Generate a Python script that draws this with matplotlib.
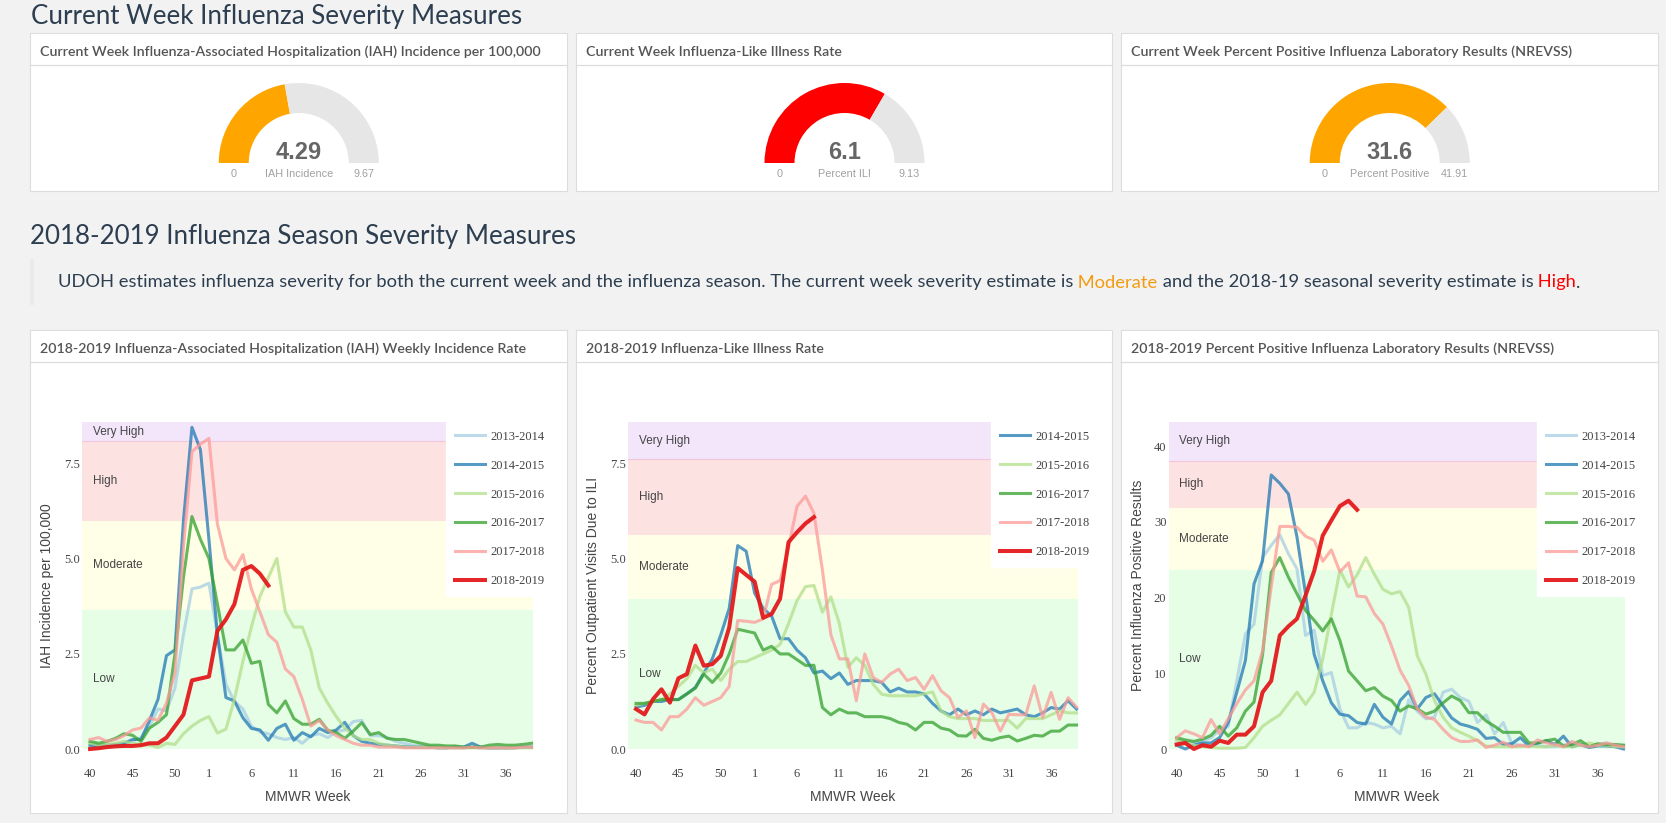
import numpy as np
import matplotlib
matplotlib.use("Agg")
import matplotlib.pyplot as plt
from matplotlib.patches import Rectangle

# ---------------- data ----------------
week_labels = [str(w) for w in range(40, 54)] + [str(w) for w in range(1, 40)]
tick_labels = ["40", "45", "50", "1", "6", "11", "16", "21", "26", "31", "36"]

gauge_titles = [
    "Current Week Influenza-Associated Hospitalization (IAH) Incidence per 100,000",
    "Current Week Influenza-Like Illness Rate",
    "Current Week Percent Positive Influenza Laboratory Results (NREVSS)",
]
gauge_names = ["IAH Incidence", "Percent ILI", "Percent Positive"]
gauge_values = [4.29, 6.1, 31.6]
gauge_max = [9.67, 9.13, 41.91]
gauge_colors = ["#FFA500", "#FF0000", "#FFA500"]

chart_titles = [
    "2018-2019 Influenza-Associated Hospitalization (IAH) Weekly Incidence Rate",
    "2018-2019 Influenza-Like Illness Rate",
    "2018-2019 Percent Positive Influenza Laboratory Results (NREVSS)",
]
severity_levels = ["Low", "Moderate", "High", "Very High"]
iah_thresholds = [0, 3.66, 5.98, 8.08]
ili_thresholds = [0, 3.94, 5.63, 7.62]
pos_thresholds = [0, 23.7, 31.8, 38.1]
iah_ymax, ili_ymax, pos_ymax = 8.58, 8.6, 43.2

# IAH incidence per 100,000
iah_2013_14 = [0.10, 0.05, 0.08, 0.10, 0.12, 0.20, 0.30, 0.60, 1.05, 1.00,
               1.60, 3.00, 4.20, 4.25, 4.35, 3.00, 1.70, 1.25, 1.05, 0.60,
               0.45, 0.40, 0.30, 0.25, 0.30, 0.15, 0.35, 0.40, 0.30, 0.45,
               0.50, 0.72, 0.75, 0.35, 0.35, 0.30, 0.20, 0.15, 0.10, 0.08,
               0.05, 0.05, 0.05, 0.03, 0.03, 0.05, 0.03, 0.03, 0.03, 0.03, 0.05, 0.05, 0.05]
iah_2014_15 = [0.10, 0.08, 0.10, 0.12, 0.15, 0.25, 0.25, 0.75, 1.30, 2.45,
               2.60, 6.00, 8.44, 7.85, 5.50, 3.00, 1.35, 1.26, 0.82, 0.54,
               0.50, 0.23, 0.54, 0.65, 0.23, 0.43, 0.32, 0.54, 0.43, 0.50,
               0.70, 0.35, 0.20, 0.15, 0.12, 0.10, 0.08, 0.06, 0.05, 0.05,
               0.05, 0.03, 0.03, 0.05, 0.05, 0.15, 0.05, 0.03, 0.03, 0.03, 0.03, 0.05, 0.05]
iah_2015_16 = [0.15, 0.10, 0.12, 0.15, 0.20, 0.15, 0.12, 0.10, 0.04, 0.15,
               0.12, 0.40, 0.60, 0.75, 0.85, 0.42, 0.52, 1.30, 2.30, 3.20,
               4.00, 4.50, 5.00, 3.60, 3.20, 3.20, 2.60, 1.60, 1.20, 0.85,
               0.55, 0.35, 0.25, 0.25, 0.15, 0.10, 0.08, 0.05, 0.05, 0.05,
               0.05, 0.03, 0.03, 0.03, 0.03, 0.03, 0.03, 0.03, 0.03, 0.03, 0.03, 0.03, 0.03]
iah_2016_17 = [0.20, 0.15, 0.20, 0.28, 0.40, 0.36, 0.20, 0.55, 0.70, 0.90,
               2.50, 4.50, 6.10, 5.50, 5.00, 3.80, 2.60, 2.60, 2.86, 2.25,
               2.30, 1.17, 0.95, 1.26, 0.80, 0.65, 0.65, 0.78, 0.49, 0.43,
               0.28, 0.47, 0.69, 0.38, 0.43, 0.28, 0.25, 0.25, 0.20, 0.15,
               0.10, 0.10, 0.08, 0.08, 0.05, 0.05, 0.05, 0.10, 0.12, 0.10, 0.10, 0.12, 0.15]
iah_2017_18 = [0.25, 0.30, 0.20, 0.25, 0.35, 0.50, 0.55, 0.82, 0.75, 1.20,
               2.00, 5.30, 7.80, 8.00, 8.15, 5.90, 5.00, 4.70, 5.10, 4.20,
               3.60, 3.00, 2.80, 2.10, 1.90, 1.30, 0.60, 0.75, 0.50, 0.35,
               0.25, 0.15, 0.10, 0.10, 0.05, 0.05, 0.05, 0.03, 0.03, 0.03,
               0.03, 0.03, 0.03, 0.03, 0.03, 0.05, 0.03, 0.03, 0.03, 0.03, 0.03, 0.05, 0.05]
iah_2018_19 = [0.00, 0.02, 0.05, 0.07, 0.08, 0.08, 0.10, 0.15, 0.15, 0.30,
               0.60, 0.90, 1.80, 1.85, 1.90, 3.10, 3.40, 3.80, 4.70, 4.80,
               4.60, 4.29]

# Percent of outpatient visits due to ILI
ili_2014_15 = [1.10, 1.15, 1.25, 1.25, 1.30, 1.30, 1.45, 1.62, 2.00, 2.37,
               3.00, 3.70, 5.35, 5.20, 4.10, 3.70, 3.50, 2.90, 2.90, 2.60,
               2.40, 2.00, 2.05, 1.85, 2.00, 1.70, 1.80, 1.80, 1.80, 1.75,
               1.50, 1.60, 1.50, 1.50, 1.45, 1.20, 1.00, 0.90, 1.05, 0.90,
               1.00, 0.90, 1.05, 0.95, 1.00, 1.05, 0.90, 0.85, 0.95, 1.09, 1.05, 1.27, 1.05]
ili_2015_16 = [1.15, 1.20, 1.25, 1.30, 1.45, 1.65, 1.85, 2.20, 2.00, 2.10,
               1.80, 2.10, 2.30, 2.30, 2.40, 2.50, 2.60, 2.75, 3.30, 3.90,
               4.27, 4.30, 3.60, 4.00, 3.30, 2.15, 2.40, 2.20, 1.70, 1.44,
               1.40, 1.40, 1.40, 1.40, 1.45, 1.50, 1.00, 0.85, 0.80, 0.80,
               0.80, 0.75, 0.75, 0.75, 0.75, 0.55, 0.80, 0.80, 0.80, 0.90, 1.00, 0.95, 0.95]
ili_2016_17 = [1.20, 1.20, 1.25, 1.30, 1.30, 1.30, 1.45, 1.60, 1.97, 1.75,
               2.00, 2.50, 3.15, 3.10, 3.05, 2.60, 2.70, 2.50, 2.50, 2.35,
               2.20, 2.20, 1.09, 0.90, 1.05, 0.95, 0.95, 0.85, 0.85, 0.85,
               0.80, 0.70, 0.65, 0.50, 0.70, 0.70, 0.55, 0.50, 0.35, 0.34,
               0.52, 0.28, 0.23, 0.30, 0.34, 0.21, 0.28, 0.36, 0.34, 0.47, 0.47, 0.63, 0.63]
ili_2017_18 = [0.76, 0.70, 0.70, 0.50, 0.85, 0.85, 1.05, 1.35, 1.15, 1.25,
               1.35, 1.65, 3.38, 3.36, 3.33, 3.42, 4.33, 4.43, 5.30, 6.38,
               6.65, 6.20, 4.70, 3.00, 2.37, 2.37, 1.27, 2.50, 1.88, 1.75,
               1.97, 2.10, 1.80, 1.88, 1.57, 1.93, 1.53, 1.35, 0.83, 1.00,
               0.30, 1.18, 0.96, 0.47, 0.91, 0.90, 0.90, 1.66, 0.83, 1.49, 0.78, 1.35, 1.10]
ili_2018_19 = [1.05, 0.91, 1.31, 1.57, 1.22, 1.86, 1.97, 2.72, 2.19, 2.23,
               2.45, 3.20, 4.76, 4.58, 4.40, 3.45, 3.55, 3.95, 5.44, 5.70,
               5.93, 6.10]

# Percent positive influenza laboratory results
pos_2013_14 = [1.2, 0.9, 0.8, 1.0, 1.5, 2.5, 3.0, 9.0, 15.2, 16.5,
               25.3, 26.9, 28.3, 25.8, 23.8, 15.0, 15.7, 9.7, 10.1, 5.3,
               2.8, 2.8, 3.5, 3.3, 2.8, 3.0, 2.0, 6.5, 5.0, 4.0,
               4.2, 7.5, 7.9, 6.8, 6.3, 3.5, 4.5, 2.0, 3.5, 0.7,
               0.5, 0.5, 0.5, 0.3, 0.3, 0.5, 0.8, 0.5, 0.3, 0.5, 0.8, 0.5, 0.5]
pos_2014_15 = [0.5, 0.0, 0.5, 0.8, 0.8, 1.5, 3.5, 7.5, 11.7, 21.8,
               24.9, 36.2, 35.1, 33.7, 28.0, 20.5, 12.5, 9.0, 6.1, 4.6,
               4.4, 3.5, 3.3, 5.9, 4.2, 3.3, 6.4, 7.6, 5.3, 6.8,
               7.3, 5.7, 4.1, 3.3, 3.0, 2.6, 1.4, 1.5, 0.6, 0.7,
               1.5, 0.4, 0.8, 1.1, 0.6, 1.7, 0.3, 0.6, 0.2, 0.4, 0.4, 0.3, 0.0]
pos_2015_16 = [1.2, 0.8, 0.5, 0.3, 0.2, 0.1, 0.1, 0.1, 0.2, 1.5,
               3.0, 3.8, 4.5, 6.0, 7.5, 5.9, 7.5, 11.9, 17.8, 23.6,
               21.4, 23.0, 25.3, 23.1, 21.1, 20.5, 20.8, 18.7, 12.3, 9.9,
               6.4, 4.2, 2.8, 2.2, 1.7, 1.1, 0.4, 0.3, 0.3, 0.3,
               0.3, 0.4, 0.3, 0.3, 0.5, 0.3, 0.3, 0.5, 0.8, 0.5, 0.5, 0.3, 0.3]
pos_2016_17 = [1.5, 1.2, 1.0, 1.3, 1.8, 3.0, 1.7, 2.8, 5.0, 6.2,
               12.5, 23.3, 25.3, 22.7, 20.5, 18.3, 17.0, 15.6, 17.2, 14.3,
               10.3, 9.0, 7.7, 8.1, 7.0, 6.4, 5.0, 5.7, 5.3, 4.6,
               5.0, 6.1, 7.0, 6.4, 4.8, 4.8, 3.7, 3.0, 2.2, 2.2,
               2.2, 0.8, 0.8, 1.1, 1.3, 0.4, 0.6, 1.1, 0.3, 0.7, 0.6, 0.6, 0.5]
pos_2017_18 = [1.5, 2.4, 2.0, 1.5, 3.9, 2.0, 4.0, 6.0, 7.8, 9.0,
               13.0, 21.4, 29.4, 29.4, 29.3, 28.1, 27.6, 24.8, 26.3, 23.4,
               24.6, 20.2, 20.1, 17.9, 16.5, 13.6, 10.4, 8.4, 5.3, 4.2,
               3.9, 2.6, 1.5, 1.0, 1.0, 1.2, 0.2, 0.5, 0.9, 0.3,
               0.5, 0.3, 1.2, 0.8, 0.6, 0.3, 1.0, 0.5, 0.3, 0.5, 0.8, 0.5, 0.3]
pos_2018_19 = [0.6, 0.8, 0.0, 0.5, 0.3, 1.1, 0.8, 1.9, 1.9, 3.0,
               7.5, 9.0, 15.0, 16.2, 17.2, 20.3, 23.5, 28.2, 30.2, 32.1,
               32.8, 31.6]

season_colors = {
    "2013-2014": "#a6cee3", "2014-2015": "#1f78b4", "2015-2016": "#b2df8a",
    "2016-2017": "#33a02c", "2017-2018": "#fb9a99", "2018-2019": "#e31a1c",
}
band_colors = ["#E6FDE6", "#FFFEE6", "#FDE2E2", "#F3E6FA"]

# ---------------- figure ----------------
W, H = 1666, 823
fig = plt.figure(figsize=(W / 100, H / 100), dpi=100)
fig.patch.set_facecolor("#F2F2F2")

bg = fig.add_axes([0, 0, 1, 1])
bg.set_xlim(0, W)
bg.set_ylim(H, 0)
bg.axis("off")

TITLE_C = "#2C3E50"
HEAD_C = "#555555"


def px_axes(x0, y0, x1, y1):
    return fig.add_axes([x0 / W, 1 - y1 / H, (x1 - x0) / W, (y1 - y0) / H])


def panel(x0, y0, x1, y1, title):
    bg.add_patch(Rectangle((x0, y0), x1 - x0, y1 - y0, facecolor="white",
                           edgecolor="#DDDDDD", lw=0.8, zorder=1))
    bg.plot([x0, x1], [y0 + 32, y0 + 32], color="#DDDDDD", lw=0.9, zorder=2)
    bg.text(x0 + 10, y0 + 18.5, title, ha="left", va="center", fontsize=10.2,
            fontweight=600, family="Lato", color=HEAD_C, zorder=3)


# section titles
bg.text(31, 23.5, "Current Week Influenza Severity Measures", ha="left",
        va="baseline", fontsize=18.6, fontweight="normal", family="Lato", color=TITLE_C)
bg.text(30, 244, "2018-2019 Influenza Season Severity Measures", ha="left",
        va="baseline", fontsize=18.6, fontweight="normal", family="Lato", color=TITLE_C)

panel_x = [(30.5, 567), (576.5, 1112.5), (1121.5, 1658)]

# ---- gauges ----
for (x0, x1), title, name, val, mx, col in zip(panel_x, gauge_titles, gauge_names,
                                              gauge_values, gauge_max, gauge_colors):
    panel(x0, 33, x1, 191, title)
    cx = (x0 + x1) / 2
    gax = px_axes(cx - 80, 83, cx + 80, 243)
    gax.pie([val, mx - val, mx], colors=[col, "#E6E6E6", (0, 0, 0, 0)],
            startangle=180, counterclock=False, radius=1,
            wedgeprops=dict(width=0.375, edgecolor="none", linewidth=0))
    gax.set_xlim(-1, 1)
    gax.set_ylim(-1, 1)
    gax.set_aspect("equal")
    gax.axis("off")
    bg.text(cx, 159, f"{val}", ha="center", va="baseline", fontsize=17,
            fontweight="bold", family="Liberation Sans", color="#666666", zorder=4)
    for dx, s in [(-65, "0"), (0, name), (65, f"{mx}")]:
        bg.text(cx + dx, 174, s, ha="center", va="center", fontsize=7.8,
                family="Liberation Sans", color="#A0A0A0", zorder=4)

# ---- blockquote ----
bg.add_patch(Rectangle((30, 259), 4, 46, facecolor="#EAEAEA", edgecolor="none", zorder=1))
segments = [
    ("UDOH estimates influenza severity for both the current week and the influenza season. "
     "The current week severity estimate is", TITLE_C),
    (" Moderate", "#F39C12"),
    (" and the 2018-19 seasonal severity estimate is", TITLE_C),
    (" High", "#FF0000"),
    (".", TITLE_C),
]
renderer = fig.canvas.get_renderer()
q_kw = dict(fontsize=13.2, family="Lato", va="center", ha="left")


def seg_width(s):
    t1 = bg.text(0, 0, "|" + s + "|", **q_kw)
    t2 = bg.text(0, 0, "||", **q_kw)
    w = t1.get_window_extent(renderer).width - t2.get_window_extent(renderer).width
    t1.remove()
    t2.remove()
    return w


xq = 58
for s, c in segments:
    bg.text(xq, 282.5, s, color=c, zorder=3, **q_kw)
    xq += seg_width(s)


# ---- charts ----
def chart(x0, x1, px0, px1, title, seasons, series, thresholds, ymax, yticks,
          yfmt, ylabel, ylab_dx):
    panel(x0, 330, x1, 813, title)
    ax = px_axes(px0, 422, px1, 749)
    tops = thresholds[1:] + [ymax]
    for lo, hi, c, lev in zip(thresholds, tops, band_colors, severity_levels):
        ax.axhspan(lo, hi, color=c, lw=0, zorder=0)
        ax.text(0.3, (lo + hi) / 2, lev, ha="left", va="center", fontsize=8.5,
                family="Liberation Sans", color="#444444", zorder=1)
    ax.axhline(thresholds[3], color="#F2C6DA", lw=0.8, zorder=0.5)
    for s, vals in zip(seasons, series):
        last = s == "2018-2019"
        ax.plot(np.arange(len(vals)), vals, color=season_colors[s],
                lw=2.9 if last else 2.2, alpha=0.95 if last else 0.75,
                label=s, clip_on=False, solid_joinstyle="round", zorder=3)
    ax.set_xlim(-0.95, 52.17)
    ax.set_ylim(0, ymax)
    ax.set_xticks([week_labels.index(t) for t in tick_labels])
    ax.set_xticklabels(tick_labels)
    ax.set_yticks(yticks)
    ax.set_yticklabels([yfmt.format(v) for v in yticks])
    ax.tick_params(axis="both", length=0, labelsize=9, labelcolor="#444444",
                   labelfontfamily="Liberation Serif")
    ax.tick_params(axis="x", pad=14)
    ax.tick_params(axis="y", pad=1.5)
    for sp in ax.spines.values():
        sp.set_visible(False)
    ax.set_xlabel("MMWR Week", fontsize=10, family="Liberation Sans", color="#444444")
    ax.xaxis.label.set_va("center")
    ax.xaxis.set_label_coords(0.5, -48 / 327)
    ax.set_ylabel(ylabel, fontsize=10, family="Liberation Sans", color="#444444")
    ax.yaxis.label.set_va("center")
    ax.yaxis.set_label_coords(-ylab_dx / (px1 - px0), 0.5)
    leg = ax.legend(loc="upper left", bbox_to_anchor=(0.807, 1.0), borderaxespad=0,
                    frameon=True, fancybox=False, framealpha=1, facecolor="white",
                    edgecolor="white", prop={"family": "Liberation Serif", "size": 9},
                    handlelength=2.4, handletextpad=0.45, labelspacing=1.35,
                    borderpad=0.7)
    for t in leg.get_texts():
        t.set_color("#444444")
    leg.set_zorder(5)
    return ax


chart(30.5, 567, 82, 533, chart_titles[0],
      ["2013-2014", "2014-2015", "2015-2016", "2016-2017", "2017-2018", "2018-2019"],
      [iah_2013_14, iah_2014_15, iah_2015_16, iah_2016_17, iah_2017_18, iah_2018_19],
      iah_thresholds, iah_ymax, [0, 2.5, 5, 7.5], "{:.1f}", "IAH Incidence per 100,000", 35)
chart(576.5, 1112.5, 628, 1078, chart_titles[1],
      ["2014-2015", "2015-2016", "2016-2017", "2017-2018", "2018-2019"],
      [ili_2014_15, ili_2015_16, ili_2016_17, ili_2017_18, ili_2018_19],
      ili_thresholds, ili_ymax, [0, 2.5, 5, 7.5], "{:.1f}",
      "Percent Outpatient Visits Due to ILI", 35)
chart(1121.5, 1658, 1168.5, 1625, chart_titles[2],
      ["2013-2014", "2014-2015", "2015-2016", "2016-2017", "2017-2018", "2018-2019"],
      [pos_2013_14, pos_2014_15, pos_2015_16, pos_2016_17, pos_2017_18, pos_2018_19],
      pos_thresholds, pos_ymax, [0, 10, 20, 30, 40], "{:.0f}",
      "Percent Influenza Positive Results", 30.5)

fig.savefig("out.png", dpi=100, facecolor=fig.get_facecolor())
